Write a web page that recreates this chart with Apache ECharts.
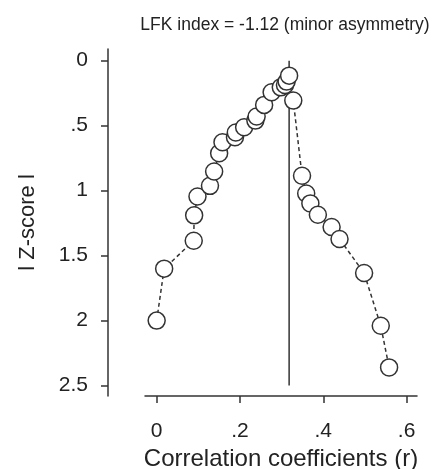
<!DOCTYPE html>
<html>
<head>
<meta charset="utf-8">
<script src="https://cdn.jsdelivr.net/npm/echarts@6/dist/echarts.min.js"></script>
<style>
  html, body { margin: 0; padding: 0; background: #fff; }
  #chart { width: 439px; height: 469px; }
</style>
</head>
<body>
<div id="chart"></div>
<script>
// 相关系数 r 及 |Z-score|（按 r 排序，折线顺序）
var rValues = [0.000, 0.018, 0.089, 0.090, 0.098, 0.128, 0.138, 0.150, 0.158, 0.188,
               0.190, 0.210, 0.237, 0.240, 0.258, 0.276, 0.298, 0.308, 0.312, 0.318,
               0.328, 0.349, 0.359, 0.369, 0.387, 0.420, 0.439, 0.498, 0.538, 0.558];
var zValues = [2.00, 1.60, 1.385, 1.19, 1.045, 0.963, 0.853, 0.712, 0.627, 0.589,
               0.553, 0.512, 0.461, 0.430, 0.340, 0.243, 0.205, 0.187, 0.161, 0.115,
               0.307, 0.885, 1.022, 1.098, 1.186, 1.28, 1.372, 1.634, 2.04, 2.36];
var xTicks = [0, 0.2, 0.4, 0.6];
var yTicks = [0, 0.5, 1, 1.5, 2, 2.5];
var refLineX = [0.318, 0.318];      // 竖线位置
var refLineY = [0, 2.5];
var titleText = 'LFK index = -1.12 (minor asymmetry)';

var font = 'Liberation Sans, Arial, Helvetica, sans-serif';
var ink = '#333';

function tickText(v) {
	// 去掉前导0: 0.5 -> .5
	var s = String(v);
	return s.replace(/^0\./, '.');
}

var points = [];
for (var i = 0; i < rValues.length; i++) {
	points.push([rValues[i], zValues[i]]);
}
var refLine = [[refLineX[0], refLineY[0]], [refLineX[1], refLineY[1]]];

var chart = echarts.init(document.getElementById('chart'));
var option = {
	animation: false,
	backgroundColor: '#fff',
	title: {
		text: titleText,
		left: 280,
		top: 11,
		textAlign: 'center',
		textStyle: { fontFamily: font, fontSize: 17.5, fontWeight: 'normal', color: '#222' }
	},
	grid: {
		left: 145,
		top: 49,
		width: 272,
		height: 347,
		containLabel: false,
		outerBoundsMode: 'none'
	},
	xAxis: {
		type: 'value',
		min: -0.028,
		max: 0.625,
		name: 'Correlation coefficients (r)',
		nameLocation: 'middle',
		nameGap: 57,
		nameTextStyle: { fontFamily: font, fontSize: 24, color: '#222', verticalAlign: 'middle' },
		axisLine: { show: true, onZero: false, lineStyle: { color: ink, width: 1.5 } },
		axisTick: { show: true, length: 7, lineStyle: { color: ink, width: 1.5 }, customValues: xTicks },
		axisLabel: {
			margin: 25, fontFamily: font, fontSize: 21, color: '#222',
			customValues: xTicks,
			formatter: tickText
		},
		splitLine: { show: false }
	},
	yAxis: {
		type: 'value',
		inverse: true,
		min: -0.09,
		max: 2.58,
		offset: 37,
		name: 'l Z-score l',
		nameLocation: 'middle',
		nameGap: 80,
		nameRotate: 90,
		nameTextStyle: { fontFamily: font, fontSize: 22, color: '#222', verticalAlign: 'middle' },
		axisLine: { show: true, onZero: false, lineStyle: { color: ink, width: 1.5 } },
		axisTick: { show: true, length: 7, lineStyle: { color: ink, width: 1.5 }, customValues: yTicks },
		axisLabel: {
			margin: 20, fontFamily: font, fontSize: 21, color: '#222',
			customValues: yTicks,
			formatter: tickText
		},
		splitLine: { show: false }
	},
	series: [{
		// 竖线（放在圆点下面）
		type: 'line',
		data: refLine,
		symbol: 'none',
		silent: true,
		lineStyle: { color: ink, width: 1.5, type: 'solid' },
		z: 1
	}, {
		type: 'line',
		data: points,
		symbol: 'circle',
		symbolSize: 17,
		showAllSymbol: true,
		lineStyle: { color: ink, width: 1.5, type: [4, 3] },
		itemStyle: { color: '#fff', borderColor: ink, borderWidth: 1.5 },
		emphasis: { disabled: true },
		z: 3
	}]
};
chart.setOption(option);
</script>
</body>
</html>
